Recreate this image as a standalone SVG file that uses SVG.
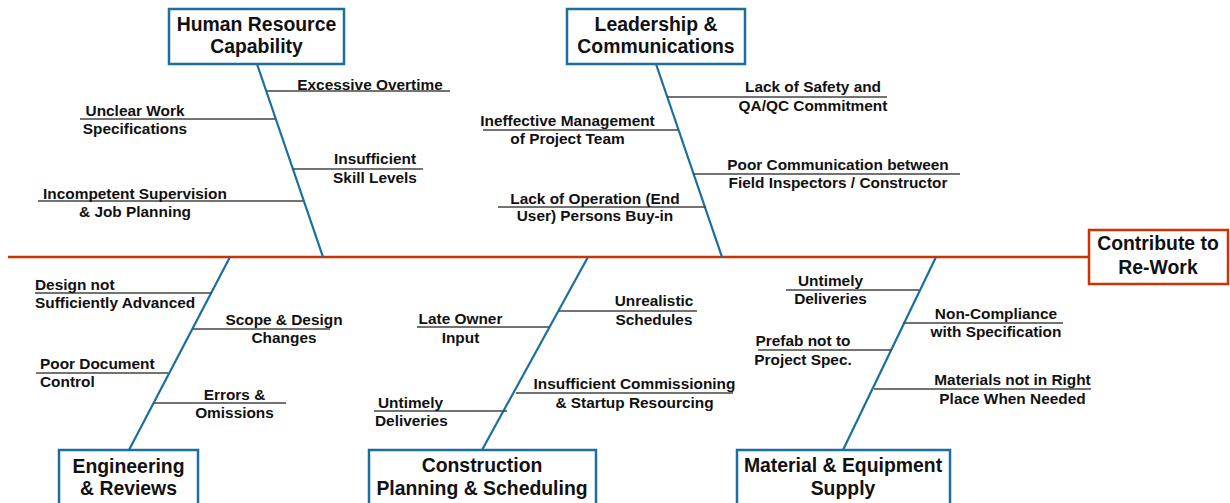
<svg xmlns="http://www.w3.org/2000/svg" width="1230" height="503" viewBox="0 0 1230 503">
<style>
  .bg{fill:#ffffff}
  .box{fill:#ffffff;stroke:#1a6ea0;stroke-width:2.5}
  .effect{fill:#ffffff;stroke:#cc3300;stroke-width:2.5}
  .spine{stroke:#cc3300;stroke-width:2.5;fill:none}
  .bone{stroke:#1a6ea0;stroke-width:2.2;fill:none}
  .sub{stroke:#444444;stroke-width:1.3;fill:none}
  .title{font-family:"Liberation Sans",Arial,sans-serif;font-weight:bold;font-size:19.4px;fill:#111111;text-anchor:middle}
  .lbl{font-family:"Liberation Sans",Arial,sans-serif;font-weight:bold;font-size:15.4px;fill:#111111;text-anchor:middle}
  .lbl.l{text-anchor:start}
</style>
<rect class="bg" x="0" y="0" width="1230" height="503"/>
<g id="connectors">
  <line class="spine" x1="8" y1="257" x2="1089" y2="257"/>
  <line class="bone" x1="257" y1="64" x2="323" y2="257"/>
  <line class="bone" x1="656" y1="64" x2="722" y2="257"/>
  <line class="bone" x1="230" y1="257" x2="129" y2="450"/>
  <line class="bone" x1="588" y1="257" x2="482" y2="450"/>
  <line class="bone" x1="936" y1="257" x2="843" y2="450"/>
</g>
<g id="effect">
  <rect class="effect" x="1089" y="230" width="139" height="54"/>
  <text class="title" x="1158" y="250">Contribute to</text>
  <text class="title" x="1158" y="274">Re-Work</text>
</g>
<g id="human-resource">
  <rect class="box" x="169" y="9" width="175" height="55"/>
  <text class="title" x="256.5" y="31">Human Resource</text>
  <text class="title" x="256.5" y="53">Capability</text>
</g>
<g id="leadership">
  <rect class="box" x="567" y="9" width="178" height="55"/>
  <text class="title" x="656" y="31">Leadership &amp;</text>
  <text class="title" x="656" y="53">Communications</text>
</g>
<g id="engineering">
  <rect class="box" x="59" y="450" width="139" height="60"/>
  <text class="title" x="128.5" y="472.5">Engineering</text>
  <text class="title" x="128.5" y="495">&amp; Reviews</text>
</g>
<g id="construction">
  <rect class="box" x="369" y="450" width="227" height="60"/>
  <text class="title" x="482" y="472">Construction</text>
  <text class="title" x="482" y="495">Planning &amp; Scheduling</text>
</g>
<g id="material">
  <rect class="box" x="737" y="450" width="213" height="60"/>
  <text class="title" x="843" y="472">Material &amp; Equipment</text>
  <text class="title" x="843" y="495">Supply</text>
</g>
<g id="cause-excessive-overtime">
  <line class="sub" x1="267" y1="91" x2="450" y2="91"/>
  <text class="lbl" x="370" y="89.5">Excessive Overtime</text>
</g>
<g id="cause-unclear-work">
  <line class="sub" x1="80" y1="119" x2="275" y2="119"/>
  <text class="lbl" x="135" y="116">Unclear Work</text>
  <text class="lbl" x="135" y="134">Specifications</text>
</g>
<g id="cause-insufficient-skill">
  <line class="sub" x1="293" y1="169" x2="423" y2="169"/>
  <text class="lbl" x="375" y="164">Insufficient</text>
  <text class="lbl" x="375" y="183">Skill Levels</text>
</g>
<g id="cause-incompetent-supervision">
  <line class="sub" x1="38" y1="201" x2="303" y2="201"/>
  <text class="lbl" x="135" y="199">Incompetent Supervision</text>
  <text class="lbl" x="135" y="217">&amp; Job Planning</text>
</g>
<g id="cause-safety-qaqc">
  <line class="sub" x1="667" y1="97" x2="887" y2="97"/>
  <text class="lbl" x="813" y="92">Lack of Safety and</text>
  <text class="lbl" x="813" y="110.5">QA/QC Commitment</text>
</g>
<g id="cause-ineffective-management">
  <line class="sub" x1="483" y1="130" x2="678" y2="130"/>
  <text class="lbl" x="567.5" y="126">Ineffective Management</text>
  <text class="lbl" x="567.5" y="143.5">of Project Team</text>
</g>
<g id="cause-poor-communication">
  <line class="sub" x1="693" y1="174" x2="960" y2="174"/>
  <text class="lbl" x="838" y="170">Poor Communication between</text>
  <text class="lbl" x="838" y="187.5">Field Inspectors / Constructor</text>
</g>
<g id="cause-end-user-buyin">
  <line class="sub" x1="498" y1="207" x2="706" y2="207"/>
  <text class="lbl" x="595" y="203.5">Lack of Operation (End</text>
  <text class="lbl" x="595" y="220.5">User) Persons Buy-in</text>
</g>
<g id="cause-design-not-advanced">
  <line class="sub" x1="35" y1="293" x2="212" y2="293"/>
  <text class="lbl l" x="35" y="289.5">Design not</text>
  <text class="lbl l" x="35" y="307.5">Sufficiently Advanced</text>
</g>
<g id="cause-scope-design-changes">
  <line class="sub" x1="193" y1="329" x2="330" y2="329"/>
  <text class="lbl" x="284" y="324.5">Scope &amp; Design</text>
  <text class="lbl" x="284" y="343">Changes</text>
</g>
<g id="cause-poor-document-control">
  <line class="sub" x1="36" y1="373" x2="168" y2="373"/>
  <text class="lbl l" x="40" y="368.5">Poor Document</text>
  <text class="lbl l" x="40" y="387">Control</text>
</g>
<g id="cause-errors-omissions">
  <line class="sub" x1="154" y1="403" x2="286" y2="403"/>
  <text class="lbl" x="234.5" y="399.5">Errors &amp;</text>
  <text class="lbl" x="234.5" y="418">Omissions</text>
</g>
<g id="cause-unrealistic-schedules">
  <line class="sub" x1="559" y1="311" x2="697" y2="311"/>
  <text class="lbl" x="654" y="306">Unrealistic</text>
  <text class="lbl" x="654" y="325">Schedules</text>
</g>
<g id="cause-late-owner-input">
  <line class="sub" x1="417" y1="327" x2="549" y2="327"/>
  <text class="lbl" x="460.5" y="324">Late Owner</text>
  <text class="lbl" x="460.5" y="343">Input</text>
</g>
<g id="cause-commissioning">
  <line class="sub" x1="516" y1="393" x2="733" y2="393"/>
  <text class="lbl" x="634.5" y="389">Insufficient Commissioning</text>
  <text class="lbl" x="634.5" y="408">&amp; Startup Resourcing</text>
</g>
<g id="cause-untimely-deliveries-cps">
  <line class="sub" x1="374" y1="411" x2="507" y2="411"/>
  <text class="lbl l" x="378" y="407.5">Untimely</text>
  <text class="lbl l" x="375" y="426">Deliveries</text>
</g>
<g id="cause-untimely-deliveries-mes">
  <line class="sub" x1="786" y1="290" x2="919" y2="290"/>
  <text class="lbl" x="830.5" y="286">Untimely</text>
  <text class="lbl" x="830.5" y="303.5">Deliveries</text>
</g>
<g id="cause-non-compliance">
  <line class="sub" x1="903" y1="323" x2="1063" y2="323"/>
  <text class="lbl" x="996" y="319">Non-Compliance</text>
  <text class="lbl" x="996" y="337">with Specification</text>
</g>
<g id="cause-prefab">
  <line class="sub" x1="758" y1="350" x2="892" y2="350"/>
  <text class="lbl" x="803" y="346">Prefab not to</text>
  <text class="lbl" x="803" y="364.5">Project Spec.</text>
</g>
<g id="cause-materials-place">
  <line class="sub" x1="874" y1="389" x2="1091" y2="389"/>
  <text class="lbl" x="1012.5" y="385">Materials not in Right</text>
  <text class="lbl" x="1012.5" y="403.5">Place When Needed</text>
</g>
</svg>
